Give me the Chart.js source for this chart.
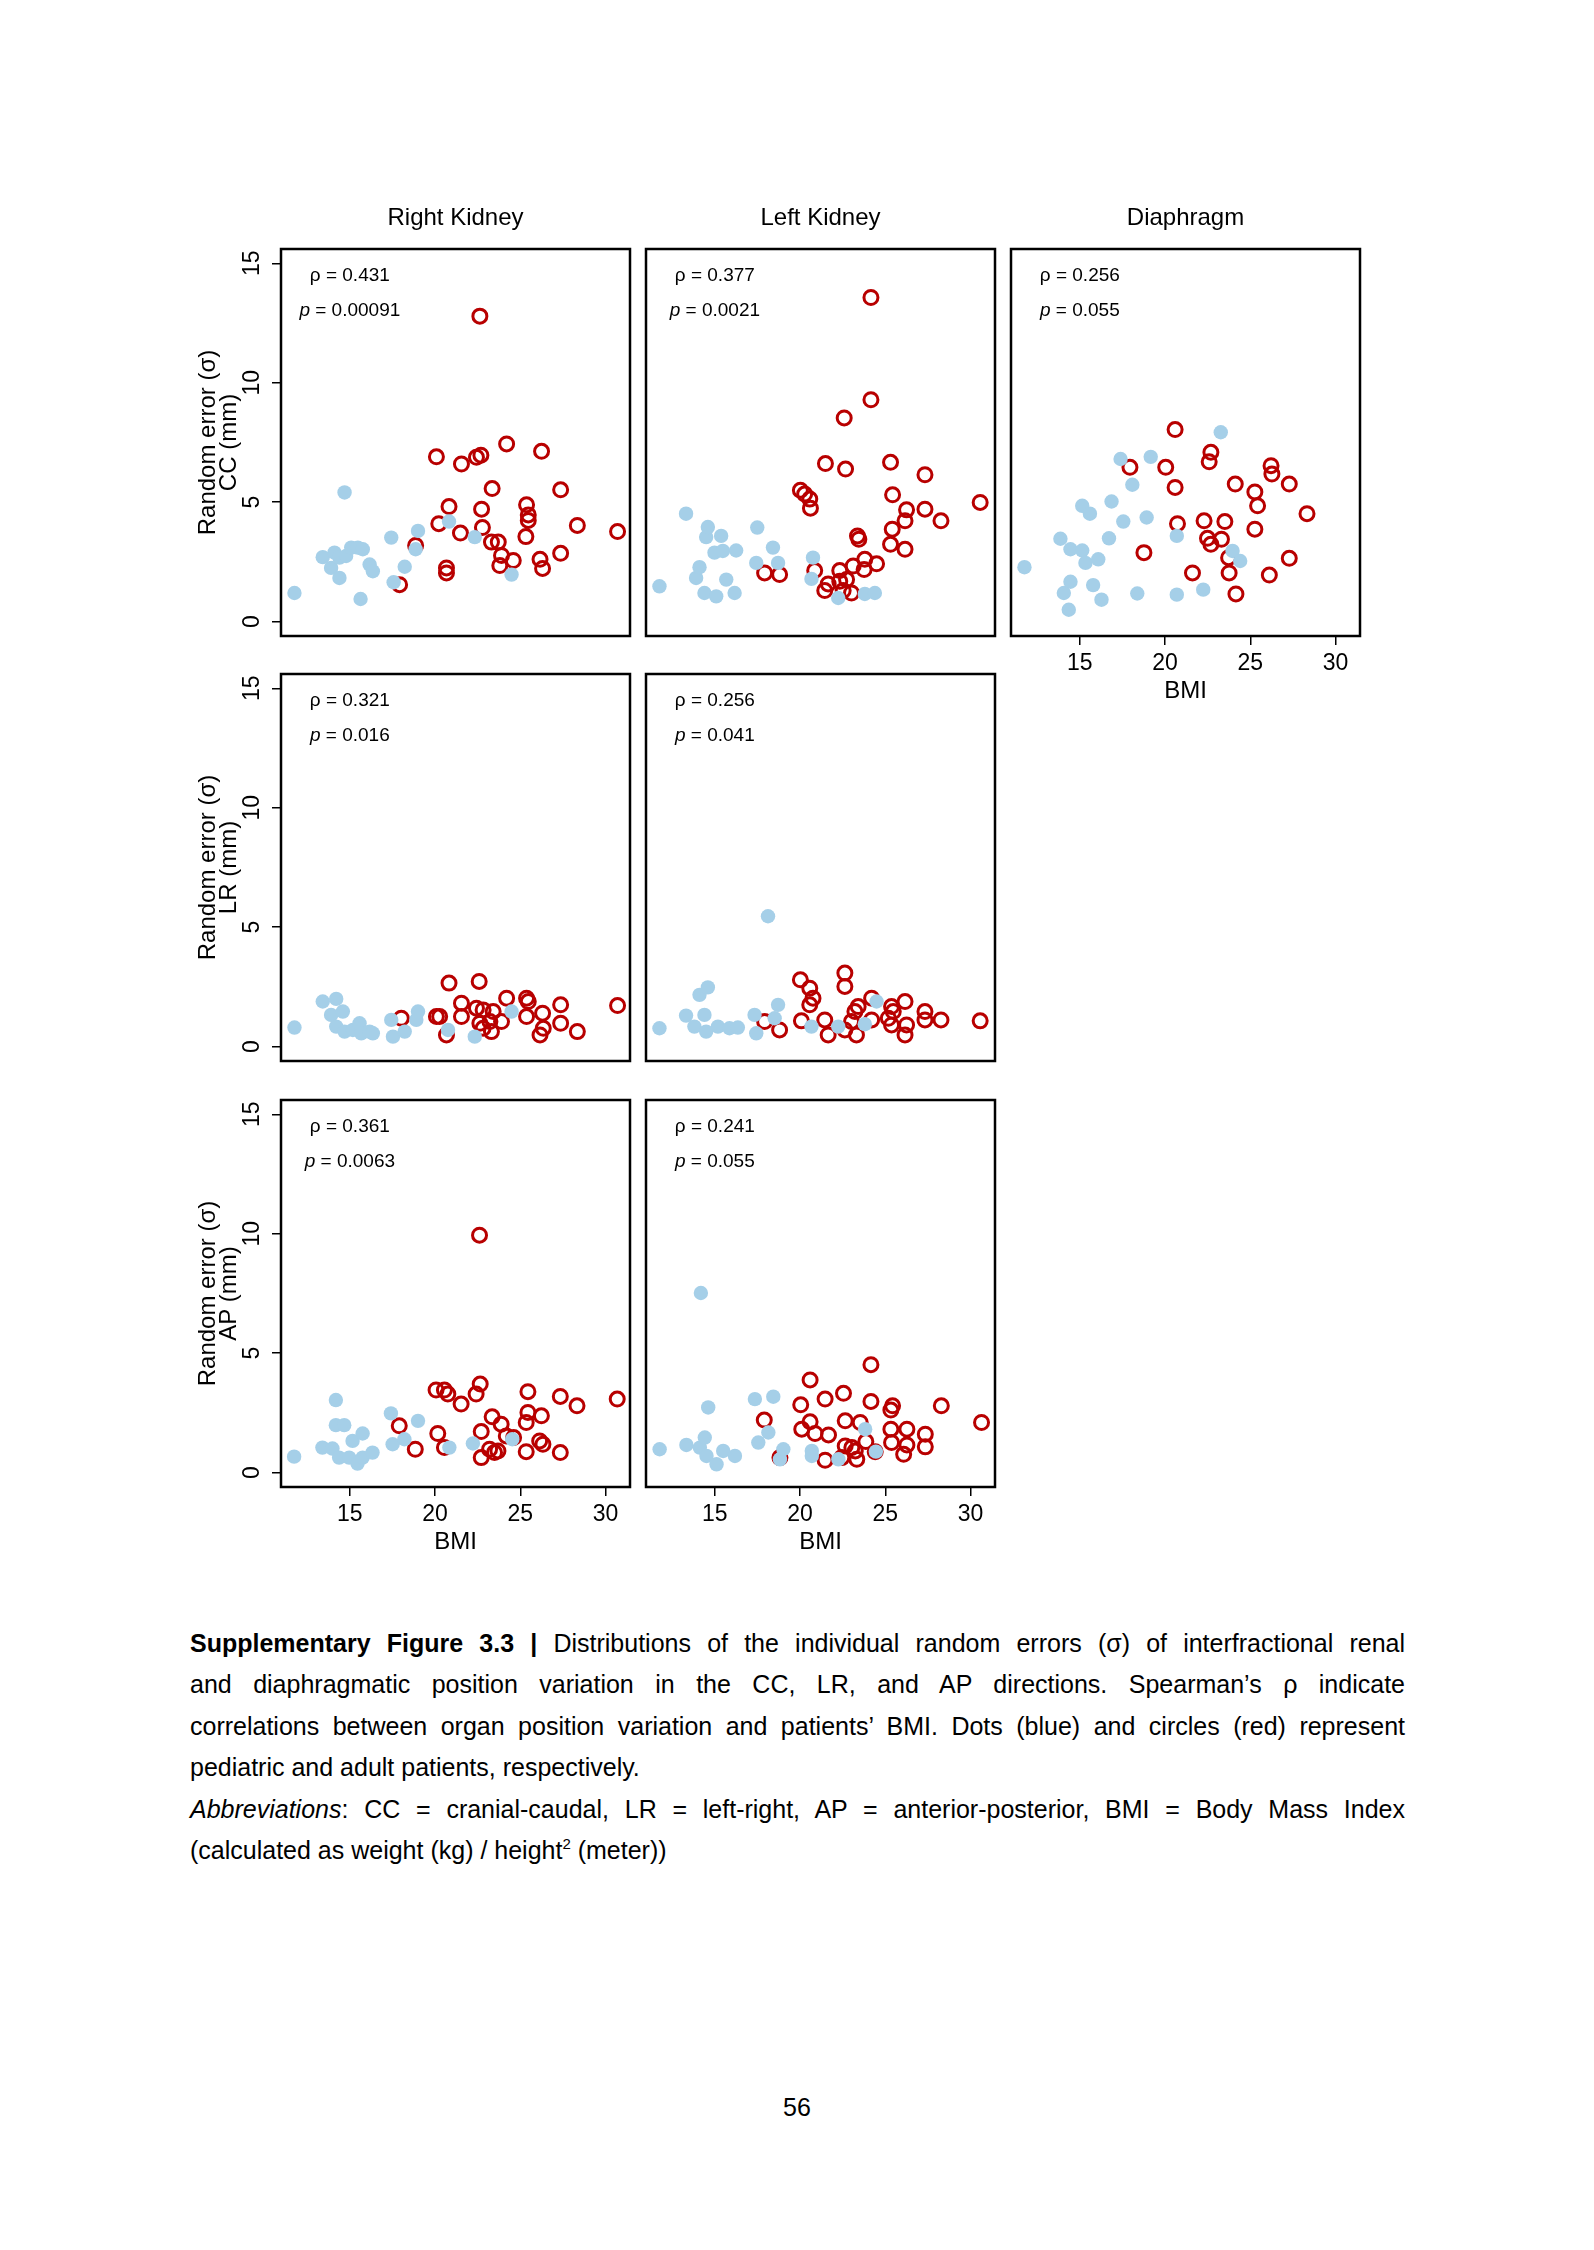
<!DOCTYPE html>
<html>
<head>
<meta charset="utf-8">
<title>Supplementary Figure 3.3</title>
<script src="https://cdn.jsdelivr.net/npm/chart.js@4.4.1/dist/chart.umd.min.js"></script>
<style>
  html, body { margin: 0; padding: 0; background: #fff; }
  body { width: 1594px; height: 2250px; position: relative; overflow: hidden;
         font-family: "Liberation Sans", Arial, sans-serif; color: #000; }
  canvas { position: absolute; }
  .caption { position: absolute; left: 190px; top: 1623px; width: 1215px;
             font-size: 25px; line-height: 41.4px; }
  .caption div { white-space: nowrap; text-align: justify; text-align-last: justify; }
  .caption div.last { text-align-last: left; }
  .caption sup { font-size: 15px; line-height: 0; vertical-align: 10px; }
  .pagenum { position: absolute; left: 0; width: 1594px; top: 2092px; text-align: center;
             font-size: 25px; line-height: 30px; }
</style>
</head>
<body>

<div class="caption">
  <div><b>Supplementary Figure 3.3 |</b> Distributions of the individual random errors (σ) of interfractional renal</div>
  <div>and diaphragmatic position variation in the CC, LR, and AP directions. Spearman’s ρ indicate</div>
  <div>correlations between organ position variation and patients’ BMI. Dots (blue) and circles (red) represent</div>
  <div class="last">pediatric and adult patients, respectively.</div>
  <div><i>Abbreviations</i>: CC = cranial-caudal, LR = left-right, AP = anterior-posterior, BMI = Body Mass Index</div>
  <div class="last">(calculated as weight (kg) / height<sup>2</sup> (meter))</div>
</div>
<div class="pagenum">56</div>

<script>
/* eslint-disable no-unused-vars */

// Graduations communes
const A_xTicks = [15, 20, 25, 30];
const A_yTicks = [0, 5, 10, 15];

// Titres des colonnes et des lignes
const A_colTitles = ["Right Kidney", "Left Kidney", "Diaphragm"];
const A_rowTitles = ["CC (mm)", "LR (mm)", "AP (mm)"];

// Statistiques de Spearman, dans l'ordre des panneaux
const A_rho = ["0.431", "0.377", "0.256", "0.321", "0.256", "0.361", "0.241"];
const A_p = ["0.00091", "0.0021", "0.055", "0.016", "0.041", "0.0063", "0.055"];

// Rein droit - CC : [BMI, erreur (mm)]
const A_rkCcPed = [[11.75,1.20],[13.41,2.70],[13.90,2.25],[14.10,2.89],[14.39,2.68],[14.39,1.83],[14.69,5.41],[14.78,2.75],[15.08,3.10],[15.47,3.10],[15.63,0.95],[15.76,3.03],[16.16,2.39],[16.35,2.11],[17.43,3.52],[17.57,1.65],[18.22,2.30],[18.86,3.03],[19.00,3.80],[20.82,4.19],[22.33,3.54],[24.49,1.97]];
const A_rkCcAdu = [[17.92,1.55],[18.86,3.19],[20.08,6.90],[20.22,4.10],[20.67,2.25],[20.67,2.04],[20.82,4.82],[21.49,3.71],[21.55,6.60],[22.43,6.88],[22.63,12.79],[22.69,6.97],[22.73,4.71],[22.78,3.94],[23.31,3.33],[23.35,5.57],[23.71,3.33],[23.80,2.35],[23.90,2.77],[24.20,7.44],[24.59,2.56],[25.33,3.56],[25.37,4.89],[25.47,4.47],[25.47,4.24],[26.16,2.61],[26.25,7.13],[26.31,2.23],[27.37,5.52],[27.37,2.86],[28.35,4.03],[30.71,3.77]];

// Rein gauche - CC
const A_lkCcPed = [[11.75,1.48],[13.31,4.52],[13.90,1.83],[14.10,2.28],[14.39,1.20],[14.49,3.54],[14.59,3.96],[14.98,2.89],[15.08,1.06],[15.37,3.59],[15.47,2.96],[15.67,1.76],[16.16,1.20],[16.25,2.98],[17.43,2.46],[17.49,3.94],[18.41,3.10],[18.71,2.46],[20.67,1.79],[20.76,2.68],[22.24,0.99],[23.80,1.16],[24.39,1.20]];
const A_lkCcAdu = [[17.92,2.04],[18.80,1.97],[20.02,5.50],[20.27,5.34],[20.57,5.13],[20.61,4.75],[20.86,2.14],[21.45,1.30],[21.49,6.62],[21.65,1.58],[22.33,2.14],[22.33,1.69],[22.53,1.30],[22.59,8.53],[22.67,6.39],[22.73,1.76],[23.02,1.20],[23.12,2.33],[23.37,3.59],[23.45,3.45],[23.76,2.18],[23.80,2.61],[24.16,13.57],[24.16,9.29],[24.49,2.42],[25.31,6.67],[25.31,3.24],[25.41,3.87],[25.43,5.31],[26.16,4.22],[26.16,3.03],[26.25,4.68],[27.33,6.15],[27.33,4.71],[28.27,4.22],[30.57,4.99]];

// Diaphragme - CC
const A_diCcPed = [[11.75,2.28],[13.86,3.47],[14.06,1.20],[14.35,0.50],[14.45,3.03],[14.45,1.67],[15.14,2.98],[15.14,4.85],[15.33,2.46],[15.59,4.52],[15.78,1.53],[16.08,2.61],[16.27,0.92],[16.71,3.49],[16.86,5.03],[17.39,6.81],[17.55,4.19],[18.08,5.73],[18.37,1.18],[18.92,4.36],[19.16,6.90],[20.69,3.59],[20.69,1.13],[22.24,1.34],[23.27,7.93],[23.96,2.96],[24.41,2.54]];
const A_diCcAdu = [[17.94,6.46],[18.76,2.89],[20.04,6.46],[20.59,8.04],[20.59,5.62],[20.73,4.10],[21.61,2.04],[22.29,4.22],[22.49,3.49],[22.59,6.69],[22.69,7.09],[22.69,3.24],[23.31,3.45],[23.51,4.19],[23.73,2.68],[23.76,2.04],[24.12,5.76],[24.16,1.16],[25.27,5.43],[25.27,3.87],[25.43,4.85],[26.12,1.95],[26.22,6.53],[26.27,6.18],[27.29,5.76],[27.29,2.65],[28.33,4.52]];

// Rein droit - LR
const A_rkLrPed = [[11.75,0.80],[13.41,1.89],[13.90,1.33],[14.20,2.00],[14.20,0.84],[14.59,1.47],[14.69,0.63],[15.18,0.70],[15.57,0.98],[15.67,0.56],[16.16,0.63],[16.35,0.56],[17.43,1.12],[17.53,0.42],[18.22,0.63],[18.90,1.12],[19.00,1.47],[20.76,0.70],[22.33,0.42],[24.49,1.47]];
const A_rkLrAdu = [[18.02,1.19],[20.08,1.26],[20.27,1.26],[20.67,0.49],[20.82,2.66],[21.55,1.82],[21.55,1.26],[22.43,1.61],[22.59,2.73],[22.63,0.98],[22.82,1.54],[22.82,0.77],[23.22,1.05],[23.31,0.63],[23.41,1.47],[23.90,1.05],[24.20,2.03],[25.37,2.03],[25.37,1.26],[25.47,1.89],[26.16,0.49],[26.31,1.40],[26.35,0.77],[27.37,1.75],[27.37,0.98],[28.35,0.63],[30.71,1.72]];

// Rein gauche - LR
const A_lkLrPed = [[11.75,0.77],[13.31,1.30],[13.80,0.84],[14.10,2.17],[14.39,1.33],[14.49,0.63],[14.59,2.48],[15.18,0.84],[15.86,0.77],[16.35,0.80],[17.33,1.33],[17.43,0.56],[18.12,5.46],[18.51,1.19],[18.71,1.75],[20.67,0.84],[22.24,0.84],[23.80,0.94],[24.49,1.89]];
const A_lkLrAdu = [[17.92,1.05],[18.80,0.70],[20.02,2.80],[20.08,1.08],[20.57,2.45],[20.57,1.75],[20.76,2.03],[21.45,1.12],[21.65,0.49],[22.63,3.08],[22.63,2.52],[22.63,0.70],[23.02,1.05],[23.22,1.47],[23.31,0.49],[23.41,1.68],[24.20,2.03],[24.20,1.12],[25.18,1.19],[25.37,1.68],[25.37,0.91],[25.47,1.47],[26.16,1.89],[26.16,0.49],[26.25,0.91],[27.33,1.47],[27.33,1.12],[28.27,1.12],[30.57,1.08]];

// Rein droit - AP
const A_rkApPed = [[11.73,0.67],[13.39,1.05],[13.98,1.01],[14.18,3.04],[14.18,1.99],[14.37,0.63],[14.67,1.99],[14.96,0.63],[15.16,1.33],[15.45,0.38],[15.75,1.64],[15.75,0.63],[16.33,0.84],[17.41,2.48],[17.51,1.19],[18.20,1.40],[19.00,2.17],[20.84,1.05],[22.22,1.22],[24.53,1.40]];
const A_rkApAdu = [[17.90,1.96],[18.84,0.98],[20.06,3.46],[20.16,1.64],[20.55,3.46],[20.55,1.05],[20.75,3.29],[21.53,2.87],[22.41,3.29],[22.65,3.71],[22.61,9.94],[22.71,1.72],[22.71,0.63],[23.20,0.98],[23.35,2.34],[23.49,0.84],[23.69,0.91],[23.88,2.03],[24.18,1.54],[24.61,1.47],[25.35,2.10],[25.35,0.88],[25.45,3.39],[25.45,2.52],[26.14,1.33],[26.24,2.38],[26.33,1.19],[27.35,3.19],[27.35,0.84],[28.33,2.80],[30.69,3.08]];

// Rein gauche - AP
const A_lkApPed = [[11.76,0.98],[13.33,1.16],[14.12,1.05],[14.18,7.52],[14.41,1.47],[14.51,0.70],[14.61,2.73],[15.10,0.35],[15.49,0.91],[16.18,0.70],[17.35,3.08],[17.55,1.26],[18.14,1.68],[18.43,3.18],[18.82,0.56],[19.02,0.98],[20.69,0.91],[20.69,0.70],[22.25,0.56],[23.82,1.82],[24.45,0.88]];
const A_lkApAdu = [[17.90,2.20],[18.82,0.63],[20.04,2.84],[20.10,1.82],[20.59,3.88],[20.59,2.13],[20.88,1.64],[21.47,3.08],[21.47,0.52],[21.67,1.58],[22.45,0.63],[22.55,3.32],[22.65,2.17],[22.65,1.12],[23.04,1.05],[23.24,0.91],[23.33,0.56],[23.53,2.10],[23.86,1.30],[24.16,4.52],[24.16,2.98],[24.41,0.88],[25.33,2.62],[25.33,1.82],[25.37,1.26],[25.43,2.80],[26.08,0.77],[26.27,1.82],[26.27,1.16],[27.35,1.61],[27.35,1.08],[28.29,2.80],[30.65,2.10]];

// Géométrie des cadres (pixels de la page)
const I_BOX_W = 349;
const I_BOX_H = 387;
const A_colLeft = [281, 646, 1011];
const A_rowTop = [249, 674, 1100];

const S_FONT = '"Liberation Sans", Arial, Helvetica, sans-serif';
const S_BLUE = "#a5cfe8";
const S_RED = "#b80000";

const A_panels = [
  { I_col: 0, I_row: 0, A_ped: A_rkCcPed, A_adu: A_rkCcAdu, B_xAxis: false },
  { I_col: 1, I_row: 0, A_ped: A_lkCcPed, A_adu: A_lkCcAdu, B_xAxis: false },
  { I_col: 2, I_row: 0, A_ped: A_diCcPed, A_adu: A_diCcAdu, B_xAxis: true },
  { I_col: 0, I_row: 1, A_ped: A_rkLrPed, A_adu: A_rkLrAdu, B_xAxis: false },
  { I_col: 1, I_row: 1, A_ped: A_lkLrPed, A_adu: A_lkLrAdu, B_xAxis: false },
  { I_col: 0, I_row: 2, A_ped: A_rkApPed, A_adu: A_rkApAdu, B_xAxis: true },
  { I_col: 1, I_row: 2, A_ped: A_lkApPed, A_adu: A_lkApAdu, B_xAxis: true },
];

Chart.defaults.font.family = S_FONT;
Chart.defaults.color = "#000";

/**
 * Cadre noir autour de la zone de tracé et texte rho / p.
 */
const O_boxPlugin = {
  id: "rBox",
  afterDraw(O_chart, O_args, O_opts) {
    const { ctx, chartArea: O_a, scales } = O_chart;
    ctx.save();
    ctx.lineWidth = 2.5;
    ctx.strokeStyle = "#000";
    ctx.strokeRect(O_a.left, O_a.top, O_a.right - O_a.left, O_a.bottom - O_a.top);

    const I_x = scales.x.getPixelForValue(15);
    ctx.fillStyle = "#000";
    ctx.textBaseline = "middle";
    ctx.textAlign = "left";

    // rho
    ctx.font = "19px " + S_FONT;
    const S_rho = "ρ = " + O_opts.rho;
    const I_wRho = ctx.measureText(S_rho).width;
    ctx.fillText(S_rho, I_x - I_wRho / 2, scales.y.getPixelForValue(14.5));

    // p en italique
    ctx.font = "italic 19px " + S_FONT;
    const I_wP = ctx.measureText("p").width;
    ctx.font = "19px " + S_FONT;
    const S_rest = " = " + O_opts.p;
    const I_wRest = ctx.measureText(S_rest).width;
    const I_y = scales.y.getPixelForValue(13);
    const I_x0 = I_x - (I_wP + I_wRest) / 2;
    ctx.font = "italic 19px " + S_FONT;
    ctx.fillText("p", I_x0, I_y);
    ctx.font = "19px " + S_FONT;
    ctx.fillText(S_rest, I_x0 + I_wP, I_y);
    ctx.restore();
  },
};

/**
 * Crée un panneau de nuage de points.
 * @param {Object} O_panel - Description du panneau.
 * @param {number} I_idx - Indice du panneau.
 * @return {Chart} Le graphique créé.
 */
function F_makeChart(O_panel, I_idx) {
  const B_yAxis = O_panel.I_col === 0;
  const B_title = O_panel.I_row === 0;
  const I_padL = B_yAxis ? 101 : 10;
  const I_padR = 10;
  const I_padT = B_title ? 50 : 10;
  const I_padB = O_panel.B_xAxis ? 70 : 10;

  const O_canvas = document.createElement("canvas");
  O_canvas.width = I_padL + I_BOX_W + I_padR;
  O_canvas.height = I_padT + I_BOX_H + I_padB;
  O_canvas.style.left = (A_colLeft[O_panel.I_col] - I_padL) + "px";
  O_canvas.style.top = (A_rowTop[O_panel.I_row] - I_padT) + "px";
  document.body.appendChild(O_canvas);

  return new Chart(O_canvas.getContext("2d"), {
    type: "scatter",
    data: {
      datasets: [
        {
          label: "Pediatric",
          data: O_panel.A_ped.map(([x, y]) => ({ x, y })),
          pointStyle: "circle",
          pointRadius: 7.2,
          pointBackgroundColor: S_BLUE,
          pointBorderWidth: 0,
        },
        {
          label: "Adult",
          data: O_panel.A_adu.map(([x, y]) => ({ x, y })),
          pointStyle: "circle",
          pointRadius: 7,
          pointBackgroundColor: "rgba(0,0,0,0)",
          pointBorderColor: S_RED,
          pointBorderWidth: 3,
        },
      ],
    },
    options: {
      responsive: false,
      animation: false,
      events: [],
      devicePixelRatio: 1,
      layout: { padding: { top: B_title ? 5 : I_padT, right: I_padR, left: 0, bottom: 0 } },
      plugins: {
        legend: { display: false },
        tooltip: { enabled: false },
        title: {
          display: B_title,
          fullSize: false,
          text: A_colTitles[O_panel.I_col],
          color: "#000",
          font: { size: 24, weight: "normal", lineHeight: 1.2 },
          padding: { top: 0, bottom: 16.2 },
        },
        rBox: { rho: A_rho[I_idx], p: A_p[I_idx] },
      },
      scales: {
        x: {
          type: "linear",
          position: "bottom",
          min: 10.96,
          max: 31.44,
          afterBuildTicks: (O_s) => { O_s.ticks = A_xTicks.map((v) => ({ value: v })); },
          afterFit: (O_s) => {
            O_s.height = I_padB;
            O_s.paddingLeft = 0;
            O_s.paddingRight = 0;
          },
          border: { display: false },
          grid: {
            display: O_panel.B_xAxis,
            drawOnChartArea: false,
            drawTicks: true,
            tickLength: 9,
            color: "#000",
            lineWidth: 1.5,
          },
          ticks: {
            display: O_panel.B_xAxis,
            color: "#000",
            font: { size: 23 },
            padding: 5,
            minRotation: 0,
            maxRotation: 0,
            autoSkip: false,
          },
          title: {
            display: O_panel.B_xAxis,
            text: "BMI",
            color: "#000",
            font: { size: 24, lineHeight: 1.2 },
            padding: { top: 0, bottom: 0 },
          },
        },
        y: {
          type: "linear",
          position: "left",
          min: -0.6,
          max: 15.6,
          afterBuildTicks: (O_s) => { O_s.ticks = A_yTicks.map((v) => ({ value: v })); },
          afterFit: (O_s) => {
            O_s.width = I_padL;
            O_s.paddingTop = 0;
            O_s.paddingBottom = 0;
          },
          border: { display: false },
          grid: {
            display: B_yAxis,
            drawOnChartArea: false,
            drawTicks: true,
            tickLength: 9,
            color: "#000",
            lineWidth: 1.5,
          },
          ticks: {
            display: B_yAxis,
            color: "#000",
            font: { size: 23 },
            minRotation: 90,
            maxRotation: 90,
            crossAlign: "center",
            padding: 7,
          },
          title: {
            display: B_yAxis,
            text: ["Random error (σ)", A_rowTitles[O_panel.I_row]],
            color: "#000",
            font: { size: 24, lineHeight: "21px" },
            padding: { top: 17.5, bottom: 0 },
          },
        },
      },
    },
    plugins: [O_boxPlugin],
  });
}

A_panels.forEach((O_panel, I_idx) => F_makeChart(O_panel, I_idx));
</script>
</body>
</html>
